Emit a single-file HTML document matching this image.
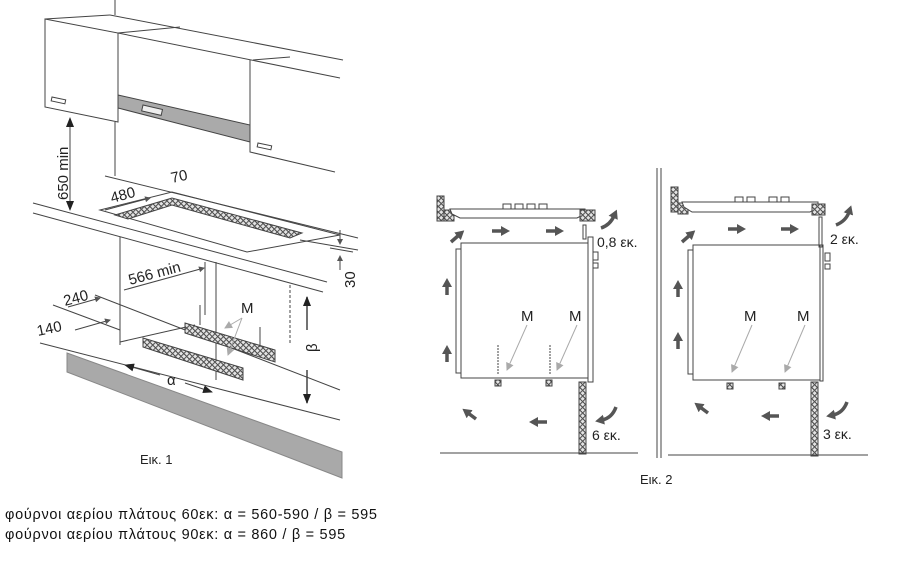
<!DOCTYPE html>
<html><head><meta charset="utf-8"><style>
html,body{margin:0;padding:0;background:#fff;}
body{width:906px;height:564px;position:relative;overflow:hidden;font-family:"Liberation Sans",sans-serif;}
.t{position:absolute;left:5px;font-size:14.5px;letter-spacing:0.7px;color:#111;}
</style></head><body>
<svg width="906" height="564" viewBox="0 0 906 564" style="position:absolute;left:0;top:0" font-family="Liberation Sans, sans-serif" fill="none" stroke="#444" stroke-width="1">
<defs>
<pattern id="h" width="4" height="4" patternUnits="userSpaceOnUse" patternTransform="rotate(45)"><rect width="4" height="4" fill="#e4e4e4"/><line x1="0" y1="0" x2="0" y2="4" stroke="#666" stroke-width="1.2"/></pattern>
<marker id="a" markerUnits="userSpaceOnUse" markerWidth="10" markerHeight="10" refX="9" refY="5" orient="auto"><path d="M0,1 L10,5 L0,9z" fill="#222" stroke="none"/></marker>
<marker id="g" markerUnits="userSpaceOnUse" markerWidth="8" markerHeight="8" refX="7" refY="4" orient="auto"><path d="M0,0 L8,4 L0,8z" fill="#aaa" stroke="none"/></marker>
<marker id="d" markerUnits="userSpaceOnUse" markerWidth="6" markerHeight="6" refX="5" refY="3" orient="auto"><path d="M0,0 L6,3 L0,6z" fill="#555" stroke="none"/></marker>
<marker id="b" markerUnits="userSpaceOnUse" markerWidth="9" markerHeight="10" refX="2" refY="5" orient="auto"><path d="M0,0 L9,5 L0,10z" fill="#555" stroke="none"/></marker>
</defs>
<!-- FIG 1 -->
<line x1="115" y1="0" x2="115" y2="15"/>
<path d="M45,19 L118,33 L118,122 L45,107 Z"/>
<line x1="45" y1="19" x2="110" y2="15"/><line x1="110" y1="15" x2="343" y2="60"/>
<line x1="118" y1="33" x2="180" y2="27"/>
<line x1="118" y1="33" x2="340" y2="78"/>
<path d="M118,95 L250,125 L250,142 L118,108 Z" fill="#aaa"/>
<rect x="143" y="105" width="20" height="6" fill="#eee" transform="rotate(13 143 105)"/>
<path d="M250,60 L250,152 L335,172"/><line x1="253" y1="60" x2="290" y2="57"/>
<rect x="52" y="97" width="14" height="4" transform="rotate(12 52 97)"/>
<rect x="258" y="143" width="14" height="4" transform="rotate(12 258 143)"/>
<line x1="115" y1="122" x2="115" y2="176"/>
<line x1="105" y1="176" x2="358" y2="238"/>
<line x1="33" y1="203" x2="327" y2="282"/>
<line x1="33" y1="213" x2="323" y2="292"/>
<path d="M100,210 L172,192 L340,235 L247,252 Z"/>
<path d="M115,215 L172,198 L302,233 L290,238 L172,205 L128,219 Z" fill="url(#h)"/>
<line x1="300" y1="240" x2="358" y2="250"/>
<line x1="330" y1="248" x2="353" y2="252"/>
<line x1="340" y1="230" x2="340" y2="244" marker-end="url(#d)"/><line x1="340" y1="270" x2="340" y2="256" marker-end="url(#d)"/>
<line x1="70" y1="118" x2="70" y2="210" marker-end="url(#a)"/><line x1="70" y1="140" x2="70" y2="118" marker-end="url(#a)"/>
<line x1="120" y1="237" x2="120" y2="345"/><line x1="216" y1="262" x2="216" y2="380"/>
<line x1="205" y1="262" x2="205" y2="315"/>
<line x1="290" y1="285" x2="290" y2="345" stroke-dasharray="3,2"/>
<line x1="124" y1="290" x2="204" y2="268" marker-end="url(#d)"/>
<line x1="105" y1="210" x2="150" y2="198" marker-end="url(#d)"/>
<line x1="95" y1="295" x2="340" y2="390"/>
<line x1="53" y1="305" x2="120" y2="330"/>
<line x1="40" y1="343" x2="340" y2="420"/>
<line x1="68" y1="307" x2="100" y2="298" marker-end="url(#d)"/>
<line x1="75" y1="330" x2="110" y2="320" marker-end="url(#d)"/>
<line x1="120" y1="342" x2="195" y2="325"/>
<path d="M67,353 L342,452 L342,478 L67,372 Z" fill="#a9a9a9" stroke="#888"/>
<path d="M185,323 L275,350 L275,362 L185,333 Z" fill="url(#h)"/>
<path d="M143,338 L243,368 L243,380 L143,347 Z" fill="url(#h)"/>
<line x1="200" y1="305" x2="200" y2="325"/><line x1="260" y1="327" x2="260" y2="347"/>
<line x1="242" y1="318" x2="225" y2="328" stroke="#aaa" marker-end="url(#g)"/>
<line x1="242" y1="318" x2="228" y2="355" stroke="#aaa" marker-end="url(#g)"/>
<line x1="160" y1="375" x2="125" y2="365" marker-end="url(#a)"/>
<line x1="185" y1="383" x2="212" y2="392" marker-end="url(#a)"/>
<line x1="307" y1="330" x2="307" y2="297" stroke-width="1.5" marker-end="url(#a)"/>
<line x1="307" y1="370" x2="307" y2="403" stroke-width="1.5" marker-end="url(#a)"/>
<g fill="#222" stroke="none" font-size="15">
<text x="68" y="200" transform="rotate(-90 68 200)">650 min</text>
<text x="172" y="183" transform="rotate(-12 172 183)">70</text>
<text x="112" y="203" transform="rotate(-15 112 203)">480</text>
<text x="130" y="285" transform="rotate(-15 130 285)">566 min</text>
<text x="65" y="306" transform="rotate(-15 65 306)">240</text>
<text x="38" y="336" transform="rotate(-12 38 336)">140</text>
<text x="241" y="313">M</text>
<text x="167" y="385">α</text>
<text x="310" y="345" transform="rotate(-90 317 345)">β</text>
<text x="355" y="288" transform="rotate(-90 355 288)">30</text>
<text x="140" y="464" font-size="13">Εικ. 1</text>
</g>
<!-- FIG 2 LEFT -->
<rect x="437" y="196" width="7" height="25" fill="url(#h)"/>
<rect x="444" y="210" width="10" height="11" fill="url(#h)"/>
<path d="M450,209 L585,209 L585,214 L577,218 L460,218 L452,214 Z" fill="#fff"/>
<path d="M503,209 v-5 h8 v5 M515,209 v-5 h8 v5 M527,209 v-5 h8 v5 M539,209 v-5 h8 v5"/>
<rect x="580" y="210" width="15" height="11" fill="url(#h)"/>
<rect x="583" y="225" width="3" height="14"/>
<rect x="461" y="243" width="127" height="135"/>
<rect x="456" y="249" width="5" height="124"/>
<rect x="588" y="237" width="5" height="145"/>
<rect x="593" y="252" width="5" height="8"/><rect x="593" y="263" width="5" height="5"/>
<rect x="579" y="382" width="7" height="72" fill="url(#h)"/>
<line x1="440" y1="453" x2="638" y2="453"/>
<rect x="495" y="380" width="6" height="6" fill="url(#h)"/><rect x="546" y="380" width="6" height="6" fill="url(#h)"/>
<line x1="498" y1="345" x2="498" y2="375" stroke-dasharray="2,1"/><line x1="550" y1="345" x2="550" y2="375" stroke-dasharray="2,1"/>
<line x1="527" y1="325" x2="507" y2="370" stroke="#aaa" marker-end="url(#g)"/>
<line x1="577" y1="325" x2="557" y2="370" stroke="#aaa" marker-end="url(#g)"/>
<g stroke="#555" stroke-width="3.5">
<line x1="451" y1="242" x2="459" y2="235" marker-end="url(#b)"/>
<line x1="492" y1="231" x2="503" y2="231" marker-end="url(#b)"/>
<line x1="546" y1="231" x2="557" y2="231" marker-end="url(#b)"/>
<line x1="447" y1="295" x2="447" y2="285" marker-end="url(#b)"/>
<line x1="447" y1="362" x2="447" y2="352" marker-end="url(#b)"/>
<line x1="476" y1="419" x2="468" y2="413" marker-end="url(#b)"/>
<line x1="547" y1="422" x2="536" y2="422" marker-end="url(#b)"/>
<path d="M601,228 Q610,225 614,216" marker-end="url(#b)" fill="none"/>
<path d="M616,407 Q612,418 602,420" marker-end="url(#b)" fill="none"/>
</g>
<!-- FIG 2 RIGHT -->
<line x1="657" y1="168" x2="657" y2="458"/><line x1="661" y1="168" x2="661" y2="458"/>
<rect x="671" y="187" width="7" height="25" fill="url(#h)"/>
<rect x="678" y="203" width="10" height="11" fill="url(#h)"/>
<path d="M682,202 L818,202 L818,207 L810,212 L692,212 L684,207 Z" fill="#fff"/>
<path d="M735,202 v-5 h8 v5 M747,202 v-5 h8 v5 M769,202 v-5 h8 v5 M781,202 v-5 h8 v5"/>
<rect x="812" y="204" width="13" height="11" fill="url(#h)"/>
<rect x="819" y="217" width="3" height="30"/>
<rect x="693" y="245" width="127" height="135"/>
<rect x="688" y="250" width="5" height="124"/>
<rect x="820" y="245" width="3" height="136"/>
<rect x="825" y="253" width="5" height="8"/><rect x="825" y="264" width="5" height="5"/>
<rect x="811" y="382" width="7" height="74" fill="url(#h)"/>
<line x1="668" y1="455" x2="868" y2="455"/>
<rect x="727" y="383" width="6" height="6" fill="url(#h)"/><rect x="779" y="383" width="6" height="6" fill="url(#h)"/>
<line x1="752" y1="325" x2="732" y2="372" stroke="#aaa" marker-end="url(#g)"/>
<line x1="805" y1="325" x2="785" y2="372" stroke="#aaa" marker-end="url(#g)"/>
<g stroke="#555" stroke-width="3.5">
<line x1="682" y1="242" x2="690" y2="235" marker-end="url(#b)"/>
<line x1="728" y1="229" x2="739" y2="229" marker-end="url(#b)"/>
<line x1="781" y1="229" x2="792" y2="229" marker-end="url(#b)"/>
<line x1="678" y1="297" x2="678" y2="287" marker-end="url(#b)"/>
<line x1="678" y1="349" x2="678" y2="339" marker-end="url(#b)"/>
<line x1="708" y1="413" x2="700" y2="407" marker-end="url(#b)"/>
<line x1="779" y1="416" x2="768" y2="416" marker-end="url(#b)"/>
<path d="M836,225 Q846,221 849,212" marker-end="url(#b)" fill="none"/>
<path d="M847,402 Q843,413 833,415" marker-end="url(#b)" fill="none"/>
</g>
<g fill="#222" stroke="none" font-size="15">
<text x="521" y="321">M</text><text x="569" y="321">M</text>
<text x="744" y="321">M</text><text x="797" y="321">M</text>
<text x="597" y="247" font-size="14">0,8 εκ.</text>
<text x="592" y="440" font-size="14">6 εκ.</text>
<text x="830" y="244" font-size="14">2 εκ.</text>
<text x="823" y="439" font-size="14">3 εκ.</text>
<text x="640" y="484" font-size="13">Εικ. 2</text>
</g>
</svg>
<div class="t" style="top:507px">φούρνοι αερίου πλάτους 60εκ: α = 560-590 / β = 595</div>
<div class="t" style="top:527px">φούρνοι αερίου πλάτους 90εκ: α = 860 / β = 595</div>
</body></html>
